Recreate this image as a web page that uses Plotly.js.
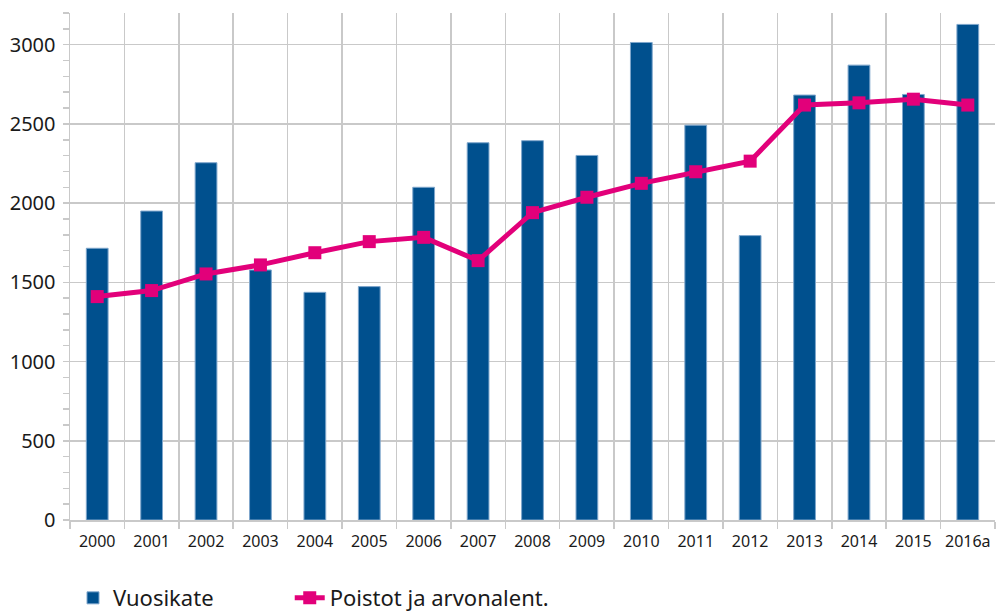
<!DOCTYPE html>
<html>
<head>
<meta charset="utf-8">
<script src="https://cdn.plot.ly/plotly-3.0.1.min.js"></script>
<style>
  html, body { margin: 0; padding: 0; background: #fff; }
  #chart { width: 996px; height: 614px; }
</style>
</head>
<body>
<div id="chart"></div>
<script>
const years = ['2000','2001','2002','2003','2004','2005','2006','2007','2008','2009','2010','2011','2012','2013','2014','2015','2016a'];
const vuosikate = [1715, 1950, 2255, 1578, 1437, 1473, 2100, 2381, 2394, 2301, 3014, 2492, 1795, 2682, 2871, 2686, 3128];
const poistot = [1410, 1448, 1553, 1610, 1687, 1757, 1784, 1637, 1940, 2037, 2125, 2198, 2265, 2619, 2633, 2656, 2619];
const seriesNames = ['Vuosikate', 'Poistot ja arvonalent.'];

const gridColor = '#c9c9c9';
const textColor = '#1a1a1a';

const traces = [
  {
    type: 'bar',
    name: seriesNames[0],
    x: years,
    y: vuosikate,
    legend: 'legend',
    marker: { color: '#00508e', line: { color: '#7ea6cc', width: 1 } }
  },
  {
    type: 'scatter',
    mode: 'lines+markers',
    name: seriesNames[1],
    x: years,
    y: poistot,
    legend: 'legend2',
    line: { color: '#e2007a', width: 5 },
    marker: { symbol: 'square', size: 13, color: '#e2007a' }
  }
];

const legendBase = {
  orientation: 'h',
  xref: 'container',
  yref: 'container',
  xanchor: 'left',
  y: 0.026,
  yanchor: 'middle',
  font: { size: 22, color: textColor },
  bgcolor: 'rgba(0,0,0,0)'
};

const layout = {
  width: 996,
  height: 614,
  margin: { l: 70, r: 1, t: 13, b: 94 },
  paper_bgcolor: '#ffffff',
  plot_bgcolor: '#ffffff',
  font: { family: 'Noto Sans, sans-serif', color: textColor },
  bargap: 0.6,
  showlegend: true,
  legend: Object.assign({}, legendBase, { x: 0.0733 }),
  legend2: Object.assign({}, legendBase, { x: 0.2909 }),
  xaxis: {
    type: 'category',
    range: [-0.5, 16.5],
    tickson: 'boundaries',
    tickangle: 0,
    showgrid: true,
    gridcolor: gridColor,
    gridwidth: 1.5,
    showline: true,
    linecolor: gridColor,
    linewidth: 1.5,
    ticks: 'outside',
    ticklen: 7,
    tickwidth: 1.5,
    tickcolor: gridColor,
    ticklabelstandoff: 6,
    tickfont: { size: 16, color: textColor },
    fixedrange: true
  },
  yaxis: {
    range: [0, 3200],
    dtick: 500,
    tick0: 0,
    showgrid: true,
    gridcolor: gridColor,
    gridwidth: 1.5,
    zeroline: false,
    showline: true,
    linecolor: gridColor,
    linewidth: 1.5,
    ticks: 'outside',
    ticklen: 6,
    tickwidth: 1.5,
    tickcolor: gridColor,
    ticklabelstandoff: 3,
    tickfont: { size: 20, color: textColor },
    minor: { dtick: 100, ticks: 'outside', ticklen: 6, tickwidth: 1.5, tickcolor: gridColor, showgrid: false },
    fixedrange: true
  }
};

Plotly.newPlot('chart', traces, layout, { displayModeBar: false, staticPlot: true });
</script>
</body>
</html>
